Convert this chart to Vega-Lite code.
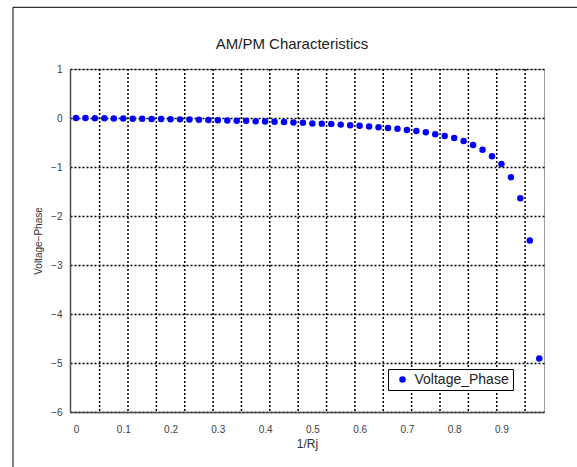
{
  "$schema": "https://vega.github.io/schema/vega-lite/v6.json",
  "autosize": "none",
  "width": 474,
  "height": 343,
  "padding": {"left": 70, "top": 69, "right": 33, "bottom": 55},
  "background": "white",
  "title": {
    "text": "AM/PM Characteristics",
    "font": "Liberation Sans",
    "fontSize": 15,
    "fontWeight": "normal",
    "color": "#222222",
    "frame": "group",
    "anchor": "middle",
    "baseline": "alphabetic",
    "offset": -57,
    "dx": -15
  },
  "config": {
    "view": {"stroke": "#a0a0a0", "strokeWidth": 1},
    "axis": {
      "labelFont": "Liberation Sans",
      "titleFont": "Liberation Sans",
      "labelColor": "#404040",
      "titleColor": "#333333",
      "titleFontWeight": "normal",
      "domainColor": "#4d4d4d",
      "domainWidth": 1.5
    }
  },
  "datasets": {
    "phase": [
      {"x": 0, "y": 0}, {"x": 0.02, "y": 0}, {"x": 0.04, "y": -0.003}, {"x": 0.06, "y": -0.005},
      {"x": 0.08, "y": -0.01}, {"x": 0.1, "y": -0.012}, {"x": 0.12, "y": -0.015}, {"x": 0.14, "y": -0.017},
      {"x": 0.16, "y": -0.02}, {"x": 0.18, "y": -0.022}, {"x": 0.2, "y": -0.025}, {"x": 0.22, "y": -0.028},
      {"x": 0.24, "y": -0.031}, {"x": 0.26, "y": -0.035}, {"x": 0.28, "y": -0.039}, {"x": 0.3, "y": -0.045},
      {"x": 0.32, "y": -0.05}, {"x": 0.34, "y": -0.054}, {"x": 0.36, "y": -0.058}, {"x": 0.38, "y": -0.065},
      {"x": 0.4, "y": -0.07}, {"x": 0.42, "y": -0.075}, {"x": 0.44, "y": -0.08}, {"x": 0.46, "y": -0.09},
      {"x": 0.48, "y": -0.097}, {"x": 0.5, "y": -0.11}, {"x": 0.52, "y": -0.115}, {"x": 0.54, "y": -0.12},
      {"x": 0.56, "y": -0.135}, {"x": 0.58, "y": -0.15}, {"x": 0.6, "y": -0.16}, {"x": 0.62, "y": -0.175},
      {"x": 0.64, "y": -0.19}, {"x": 0.66, "y": -0.205}, {"x": 0.68, "y": -0.22}, {"x": 0.7, "y": -0.245},
      {"x": 0.72, "y": -0.265}, {"x": 0.74, "y": -0.29}, {"x": 0.76, "y": -0.33}, {"x": 0.78, "y": -0.365},
      {"x": 0.8, "y": -0.41}, {"x": 0.82, "y": -0.47}, {"x": 0.84, "y": -0.55}, {"x": 0.86, "y": -0.65},
      {"x": 0.88, "y": -0.78}, {"x": 0.9, "y": -0.94}, {"x": 0.92, "y": -1.21}, {"x": 0.94, "y": -1.64},
      {"x": 0.96, "y": -2.5}, {"x": 0.98, "y": -4.91}
    ],
    "xgrid": [
      {"g": 0.05}, {"g": 0.11}, {"g": 0.17}, {"g": 0.23}, {"g": 0.29}, {"g": 0.35}, {"g": 0.41}, {"g": 0.47},
      {"g": 0.53}, {"g": 0.59}, {"g": 0.65}, {"g": 0.71}, {"g": 0.77}, {"g": 0.83}, {"g": 0.89}, {"g": 0.95}
    ]
  },
  "layer": [
    {
      "data": {"values": [{}]},
      "mark": {"type": "rect", "fill": null, "fillOpacity": 0, "stroke": "black", "strokeWidth": 1, "clip": false},
      "encoding": {
        "x": {"datum": -0.1333, "type": "quantitative"},
        "x2": {"datum": 1.2},
        "y": {"datum": 2.259, "type": "quantitative"},
        "y2": {"datum": -8}
      }
    },
    {
      "data": {"name": "xgrid"},
      "mark": {"type": "rule", "color": "black", "strokeWidth": 1.5, "strokeDash": [2, 2]},
      "encoding": {
        "x": {"field": "g", "type": "quantitative"}
      }
    },
    {
      "data": {"name": "phase"},
      "mark": {"type": "point", "filled": true, "opacity": 1, "size": 42, "shape": "circle"},
      "encoding": {
        "x": {
          "field": "x",
          "type": "quantitative",
          "scale": {"domain": [-0.0127, 0.99], "nice": false, "zero": false},
          "axis": {
            "title": "1/Rj",
            "values": [0, 0.1, 0.2, 0.3, 0.4, 0.5, 0.6, 0.7, 0.8, 0.9],
            "format": ".1~f",
            "grid": false,
            "ticks": false,
            "labelFontSize": 10,
            "labelPadding": 12.5,
            "titleFontSize": 12,
            "titlePadding": 4
          }
        },
        "y": {
          "field": "y",
          "type": "quantitative",
          "scale": {"domain": [-6, 1], "nice": false, "zero": false},
          "axis": {
            "title": "Voltage−Phase",
            "values": [-6, -5, -4, -3, -2, -1, 0, 1],
            "format": "d",
            "grid": true,
            "gridColor": "black",
            "gridOpacity": 1,
            "gridWidth": 1.5,
            "gridDash": [2, 2],
            "ticks": false,
            "labelFontSize": 10,
            "labelPadding": 8,
            "titleFontSize": 10,
            "titlePadding": 7
          }
        },
        "color": {
          "datum": "Voltage_Phase",
          "type": "nominal",
          "scale": {"range": ["#0000ff"]},
          "legend": {
            "title": null,
            "orient": "none",
            "legendX": 318,
            "legendY": 300,
            "fillColor": "white",
            "strokeColor": "black",
            "padding": 3.5,
            "symbolOffset": 4,
            "symbolSize": 42,
            "symbolType": "circle",
            "labelFont": "Liberation Sans",
            "labelFontSize": 14,
            "labelColor": "#222222",
            "labelOffset": 5
          }
        }
      }
    }
  ]
}
